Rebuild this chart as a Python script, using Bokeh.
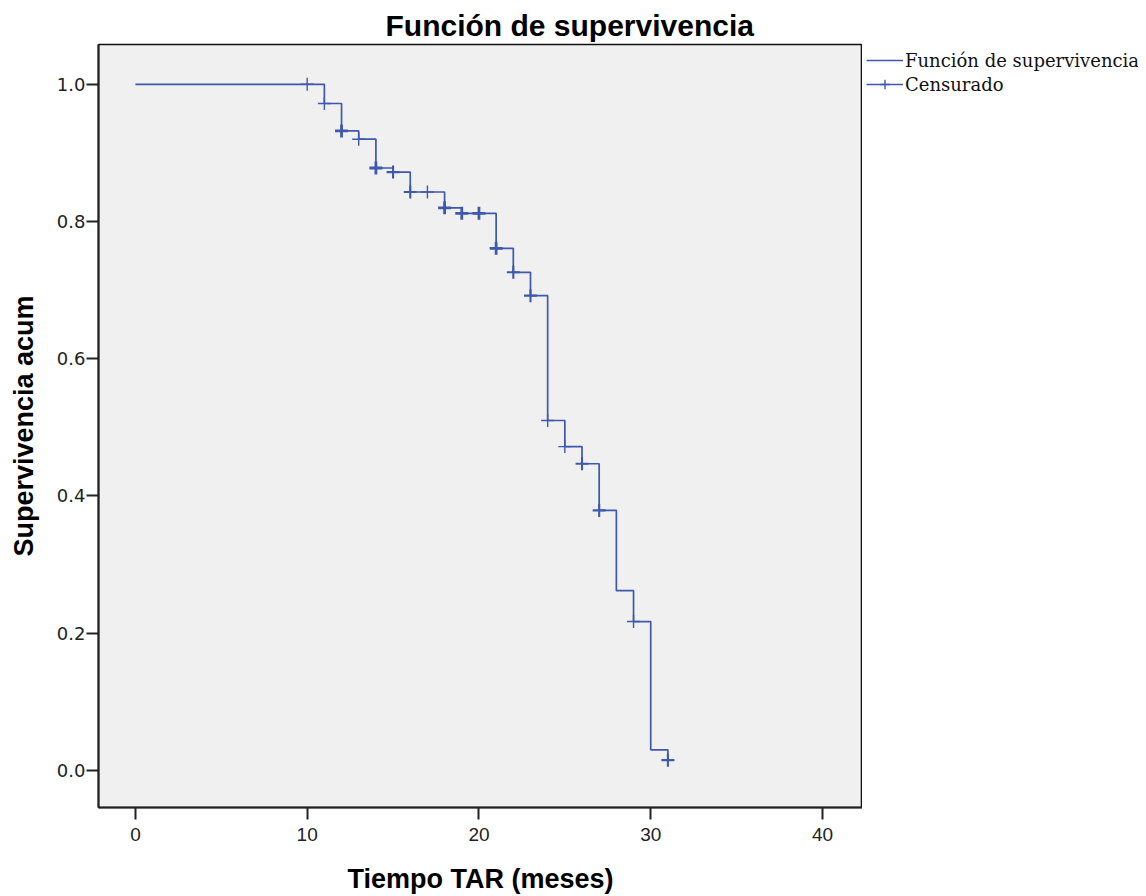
from bokeh.plotting import figure
from bokeh.layouts import row
from bokeh.models import Range1d, Legend, LegendItem, FixedTicker, ColumnDataSource
from bokeh.embed import file_html
from bokeh.resources import INLINE

# Kaplan-Meier step curve (time in months, cumulative survival)
step_times = [0, 11, 12, 13, 14, 15, 16, 18, 19, 21, 22, 23, 24, 25, 26, 27, 28, 29, 30, 31]
step_surv = [1.0, 0.972, 0.932, 0.920, 0.878, 0.872, 0.843, 0.820, 0.812, 0.761,
             0.726, 0.692, 0.510, 0.472, 0.447, 0.379, 0.262, 0.217, 0.030, 0.015]

# Censored observations
censor_times = [10, 11, 12, 13, 14, 15, 16, 17, 18, 19, 20, 21, 22, 23, 24, 25, 26, 27, 29, 31]
censor_surv = [1.0, 0.972, 0.932, 0.920, 0.878, 0.872, 0.843, 0.843, 0.820, 0.812, 0.812,
               0.761, 0.726, 0.692, 0.510, 0.472, 0.447, 0.379, 0.217, 0.015]
censor_n = [1, 1, 3, 1, 3, 2, 2, 1, 3, 3, 3, 3, 2, 2, 1, 1, 2, 2, 1, 2]

x_ticks = [0, 10, 20, 30, 40]
y_ticks = [0.0, 0.2, 0.4, 0.6, 0.8, 1.0]

legend_labels = ["Función de supervivencia", "Censurado"]

COLOR = "#3E58AC"
H = 896

p = figure(width=862, height=H, output_backend="svg", toolbar_location=None,
           x_range=Range1d(-2.15, 42.33), y_range=Range1d(-0.054, 1.058),
           min_border_left=98, min_border_right=0, min_border_top=44, min_border_bottom=86,
           title="Función de supervivencia")

p.title.align = "left"
p.title.offset = 287
p.title.standoff = 6
p.title.text_font = "Liberation Sans"
p.title.text_font_size = "30px"
p.title.text_font_style = "bold"
p.title.text_color = "black"

p.background_fill_color = "#F0F0F0"
p.border_fill_color = "white"
p.outline_line_color = "#111111"
p.outline_line_width = 1.6
p.grid.visible = False

p.step(step_times, step_surv, mode="after", line_color=COLOR, line_width=1.7)

src = ColumnDataSource(dict(x=censor_times, y=censor_surv,
                            lw=[1.4 + 0.7 * (n - 1) for n in censor_n]))
p.scatter("x", "y", source=src, marker="cross", size=13,
          line_color=COLOR, line_width="lw")

# Axes
p.xaxis.ticker = FixedTicker(ticks=x_ticks)
p.yaxis.ticker = FixedTicker(ticks=y_ticks)
p.xaxis.major_label_overrides = {t: str(t) for t in x_ticks}
p.yaxis.major_label_overrides = {t: f"{t:.1f}" for t in y_ticks}
for ax in (p.xaxis, p.yaxis):
    ax.minor_tick_line_color = None
    ax.major_tick_in = 0
    ax.major_tick_out = 12
    ax.major_tick_line_color = "#222222"
    ax.major_tick_line_width = 2
    ax.axis_line_color = "#222222"
    ax.axis_line_width = 2
    ax.major_label_text_color = "#222222"
    ax.axis_label_text_color = "black"
    ax.axis_label_text_font_style = "bold"
    ax.axis_label_text_font = "Liberation Sans"
    ax.axis_label_text_font_size = "27px"

p.xaxis.axis_label = "Tiempo TAR (meses)"
p.xaxis.axis_label_standoff = 20
p.xaxis.major_label_text_font = "Liberation Sans"
p.xaxis.major_label_text_font_size = "19px"
p.xaxis.major_label_standoff = 8

p.yaxis.axis_label = "Supervivencia acum"
p.yaxis.axis_label_standoff = 15
p.yaxis.major_label_text_font = "DejaVu Sans"
p.yaxis.major_label_text_font_size = "18px"
p.yaxis.major_label_standoff = 1

# Legend panel (separate figure to the right of the plot frame)
lg = figure(width=276, height=H, output_backend="svg", toolbar_location=None,
            x_range=Range1d(0, 1), y_range=Range1d(0, 1),
            x_axis_location=None, y_axis_location=None,
            min_border_left=0, min_border_right=0, min_border_top=44, min_border_bottom=0)
lg.grid.visible = False
lg.outline_line_color = None
lg.background_fill_color = "white"
lg.border_fill_color = "white"

leg_step = lg.step([-5, -4], [-5, -5], mode="after", line_color=COLOR, line_width=1.7)
leg_line = lg.line([-5, -4], [-5, -5], line_color=COLOR, line_width=1.7)
leg_cross = lg.scatter([-5], [-5], marker="cross", size=13, line_color=COLOR, line_width=1.4)

legend = Legend(items=[
    LegendItem(label=legend_labels[0], renderers=[leg_step]),
    LegendItem(label=legend_labels[1], renderers=[leg_line, leg_cross]),
], location="top_left", orientation="vertical")
legend.background_fill_alpha = 0
legend.border_line_color = None
legend.label_text_font = "DejaVu Serif"
legend.label_text_font_size = "18px"
legend.label_text_color = "#111111"
legend.glyph_width = 37
legend.glyph_height = 24
legend.label_height = 24
legend.label_standoff = 2
legend.spacing = 0
legend.padding = 0
legend.margin = 4
lg.add_layout(legend, "center")

layout = row(p, lg, spacing=0)
open("out.html", "w").write(file_html(layout, INLINE))
